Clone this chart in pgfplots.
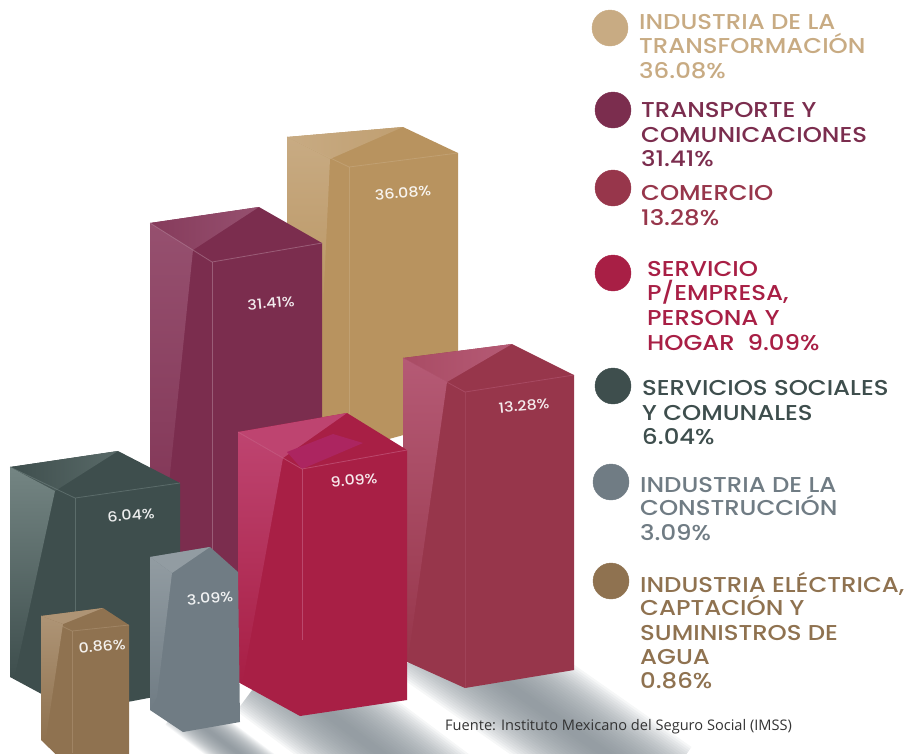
\documentclass[border=0pt]{standalone}
\usepackage{pgfplots}
\pgfplotsset{compat=1.18}
\usepackage{fontspec}
\setmainfont{Poppins}[UprightFont=* Medium,BoldFont=* SemiBold,FakeStretch=1.135]
\newfontfamily\src{Open Sans}
\definecolor{ctan}{HTML}{B8935F}\definecolor{ctanL}{HTML}{C8AB83}
\definecolor{cpur}{HTML}{7B2D4E}\definecolor{cpurL}{HTML}{96506F}
\definecolor{ccom}{HTML}{97364B}\definecolor{ccomL}{HTML}{B55A75}
\definecolor{cred}{HTML}{A81F45}\definecolor{credL}{HTML}{BE4470}
\definecolor{credM}{HTML}{AC2560}
\definecolor{cgre}{HTML}{3E4E4D}\definecolor{cgreL}{HTML}{748583}
\definecolor{cgry}{HTML}{707C84}\definecolor{cgryL}{HTML}{929CA2}
\definecolor{cbro}{HTML}{8F7250}\definecolor{cbroL}{HTML}{AE9475}
\definecolor{shad}{HTML}{7F8990}
\newcommand\poly[2]{\addplot[draw=none,#1] coordinates {#2} -- cycle;}
\newcommand\band[2]{\pgfplotsinvokeforeach{1,.96,.92,.88,.84,.8,.76,.72,.68,.64,.6,.56,.52,.48,.44,.4,.36,.32,.28,.24,.2,.16,.12,.08}{\addplot[draw=shad,opacity=.07,line width=##1*#2pt] coordinates {#1};}}
\newcommand\edge[2]{\addplot[draw=#1,line width=0.8pt,opacity=0.55] coordinates {#2};}
\newcommand\lab[4]{\node[anchor=base west,yshift=-7.5pt,inner sep=0pt,text=#1,font=\fontsize{#4}{#4}\selectfont] at (axis cs:#2) {#3};}
\newcommand\pct[2]{\node[text=white,opacity=0.9,rotate=5,inner sep=0pt,font=\fontsize{14}{14}\selectfont] at (axis cs:#1) {#2};}
\newcommand\legdot[2]{\addplot[only marks,mark=*,mark size=18pt,color=#1] coordinates {#2};}
\begin{document}
\begin{tikzpicture}
\useasboundingbox (0,0) rectangle (917pt,753pt);
\begin{axis}[at={(0,0)},anchor=south west,scale only axis,width=917pt,height=753pt,xmin=0,xmax=917,ymin=0,ymax=753,y dir=reverse,hide axis,clip=true]
% floor shadows
\band{(430,631)(660,792)}{110}
\band{(268,669)(460,813)}{105}
\band{(178,708)(290,792)}{42}
% tan bar 36.08
\poly{fill=ctan}{(287,137)(403,127)(458,153)(458,420)(349,450)(287,420)}
\poly{left color=ctanL,right color=ctan!50!ctanL}{(287,137)(403,127)(330,159)}
\poly{top color=ctanL,bottom color=ctan}{(287,137)(330,159)(322,330)(287,330)}
\edge{ctanL}{(287,137)(349,167)(458,153)}
\edge{ctanL}{(349,167)(349,420)}
% purple bar 31.41
\poly{fill=cpur}{(150,223)(259,207)(322,243)(322,640)(212,660)(150,640)}
\poly{left color=cpur!60!cpurL,right color=cpurL}{(150,223)(259,207)(193,250)}
\poly{top color=cpurL,bottom color=cpur}{(150,223)(193,250)(155,620)(150,620)}
\edge{cpurL!70!white}{(150,223)(212,262)(322,243)}
\edge{cpurL!70!white}{(212,262)(212,560)}
% comercio 13.28
\poly{fill=ccom}{(403,358)(512,344)(574,375)(574,670)(465,688)(403,660)}
\poly{left color=ccom!40!ccomL,right color=ccomL}{(403,358)(512,344)(447,382)}
\poly{top color=ccomL,bottom color=ccom}{(403,358)(447,382)(408,660)(403,660)}
\edge{ccomL}{(403,358)(465,392)(574,375)}
\edge{ccomL!60!ccom}{(465,392)(465,688)}
% green 6.04
\poly{fill=cgre}{(10,467)(118,451)(180,483)(180,692)(75,712)(10,677)}
\poly{left color=cgre,right color=cgre!50!cgreL}{(10,467)(118,451)(55,491)}
\poly{top color=cgreL,bottom color=cgre}{(10,467)(55,491)(15,675)(10,677)}
\edge{cgreL}{(10,467)(75,498)(180,483)}
\edge{cgreL}{(75,498)(75,700)}
% red 9.09
\poly{fill=cred}{(238,432)(347,413)(407,450)(407,700)(300,716)(238,682)}
\poly{fill=credL}{(238,432)(347,413)(283,458)}
\poly{fill=credM}{(287,452)(333,434)(363,443)(302,469)}
\poly{top color=credL,bottom color=cred}{(238,432)(283,458)(243,680)(238,682)}
\edge{credL!80!white}{(238,432)(302,469)(407,450)}
\edge{credL!80!white}{(302,469)(302,640)}
% grey 3.09
\poly{fill=cgry}{(150,557)(210,547)(238,572)(240,722)(183,732)(150,710)}
\poly{fill=cgryL}{(150,557)(210,547)(172,573)}
\poly{top color=cgryL,bottom color=cgry}{(150,557)(172,573)(157,697)(150,710)}
% brown 0.86
\poly{fill=cbro}{(41,616)(103,608)(129,625)(129,770)(72,770)(41,740)}
\poly{fill=cbroL}{(41,616)(103,608)(63,624)}
\poly{top color=cbroL,bottom color=cbro}{(41,616)(63,624)(46,738)(41,740)}
\edge{cbroL}{(41,616)(72,631)(129,625)}
\edge{cbroL}{(72,631)(72,753)}
% bar labels
\pct{403,193}{36.08\%}
\pct{271,303}{31.41\%}
\pct{524,406}{13.28\%}
\pct{354,480}{9.09\%}
\pct{131,515}{6.04\%}
\pct{210,598}{3.09\%}
\pct{102,646}{0.86\%}
% legend dots
\legdot{ctanL}{(610,28)}
\legdot{cpur}{(613,110)}
\legdot{ccom}{(613,188)}
\legdot{cred}{(613,273)}
\legdot{cgre}{(613,386)}
\legdot{cgry}{(611,482)}
\legdot{cbro}{(611,581)}
% legend text
\def\fs{21.5}
\lab{ctanL}{639,22}{INDUSTRIA DE LA}{\fs}
\lab{ctanL}{639,46}{TRANSFORMACIÓN}{\fs}
\lab{ctanL}{639,71}{36.08\%}{\fs}
\lab{cpur}{641,110}{TRANSPORTE Y}{\fs}
\lab{cpur}{641,135}{COMUNICACIONES}{\fs}
\lab{cpur}{641,159}{31.41\%}{\fs}
\lab{ccom}{641,193}{COMERCIO}{\fs}
\lab{ccom}{641,218}{13.28\%}{\fs}
\lab{cred}{647,269}{SERVICIO}{\fs}
\lab{cred}{647,293}{P/EMPRESA,}{\fs}
\lab{cred}{647,318}{PERSONA Y}{\fs}
\lab{cred}{647,343}{HOGAR\ \ 9.09\%}{\fs}
\lab{cgre}{642,388}{SERVICIOS SOCIALES}{\fs}
\lab{cgre}{642,413}{Y COMUNALES}{\fs}
\lab{cgre}{642,437}{6.04\%}{\fs}
\lab{cgry}{640,485}{INDUSTRIA DE LA}{\fs}
\lab{cgry}{640,508}{CONSTRUCCIÓN}{\fs}
\lab{cgry}{640,533}{3.09\%}{\fs}
\lab{cbro}{640,585}{INDUSTRIA ELÉCTRICA,}{\fs}
\lab{cbro}{640,608}{CAPTACIÓN Y}{\fs}
\lab{cbro}{640,633}{SUMINISTROS DE}{\fs}
\lab{cbro}{640,657}{AGUA}{\fs}
\lab{cbro}{640,681}{0.86\%}{\fs}
\node[anchor=west,inner sep=0pt,text=black!80,font=\src\fontsize{14.6}{15}\selectfont] at (axis cs:445,727) {Fuente: Instituto Mexicano del Seguro Social (IMSS)};
\end{axis}
\end{tikzpicture}
\end{document}
